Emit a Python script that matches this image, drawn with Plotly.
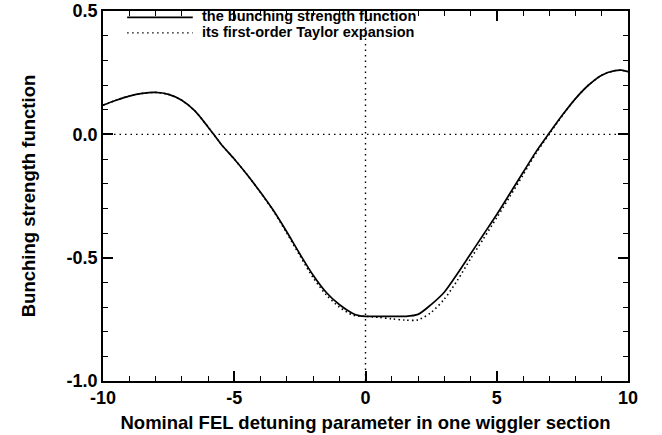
import plotly.graph_objects as go

# Detuning parameter samples
detuning = [-10, -9.5, -9, -8.5, -8, -7.5, -7, -6.5, -6, -5.5, -5, -4.5, -4,
            -3.5, -3, -2.5, -2, -1.5, -1, -0.5, -0.25, 0, 0.5, 1, 1.5, 2,
            2.5, 3, 3.5, 4, 4.5, 5, 5.5, 6, 6.5, 7, 7.5, 8, 8.5, 9, 9.5,
            9.75, 10]

# Bunching strength function
bunching = [0.118, 0.138, 0.155, 0.166, 0.170, 0.162, 0.138, 0.095, 0.030,
            -0.040, -0.100, -0.165, -0.235, -0.310, -0.395, -0.485, -0.570,
            -0.640, -0.690, -0.725, -0.735, -0.738, -0.738, -0.738, -0.738,
            -0.730, -0.690, -0.640, -0.565, -0.485, -0.405, -0.325, -0.240,
            -0.155, -0.070, 0.005, 0.078, 0.145, 0.200, 0.240, 0.258,
            0.260, 0.254]

# First-order Taylor expansion
taylor = [0.118, 0.138, 0.155, 0.166, 0.170, 0.162, 0.138, 0.095, 0.030,
          -0.040, -0.100, -0.165, -0.236, -0.312, -0.400, -0.492, -0.580,
          -0.650, -0.700, -0.732, -0.737, -0.738, -0.742, -0.748, -0.753,
          -0.752, -0.722, -0.668, -0.592, -0.505, -0.422, -0.338, -0.252,
          -0.165, -0.076, 0.001, 0.076, 0.145, 0.200, 0.240, 0.258,
          0.260, 0.254]

x_ticks = [-10, -5, 0, 5, 10]
x_ticktext = ["-10", "-5", "0", "5", "10"]
y_ticks = [-1.0, -0.5, 0.0, 0.5]
y_ticktext = ["-1.0", "-0.5", "0.0", "0.5"]

series_names = ["the bunching strength function",
                "its first-order Taylor expansion"]

FONT = "Liberation Sans, Arial, Helvetica, sans-serif"


def bold(size):
    return dict(family=FONT, size=size, color="black", weight="bold")


fig = go.Figure()
fig.add_trace(go.Scatter(x=detuning, y=bunching, mode="lines",
                         line=dict(color="black", width=1.7, shape="spline",
                                   smoothing=0.8),
                         name=series_names[0], showlegend=False))
fig.add_trace(go.Scatter(x=detuning, y=taylor, mode="lines",
                         line=dict(color="black", width=1.6, dash="1.5px,3px",
                                   shape="spline", smoothing=0.8),
                         name=series_names[1], showlegend=False))

# Dotted reference lines through the origin
fig.add_hline(y=0, line=dict(color="black", width=1.4, dash="1.5px,4px"))
fig.add_vline(x=0, line=dict(color="black", width=1.4, dash="1.5px,4px"))

# Hand-drawn legend in the upper-left corner of the plot area
legend_y = [0.986, 0.944]
legend_dash = ["solid", "1.5px,3.5px"]
for name, ypos, dash in zip(series_names, legend_y, legend_dash):
    fig.add_shape(type="line", xref="paper", yref="paper",
                  x0=0.046, x1=0.171, y0=ypos - 0.003, y1=ypos - 0.003,
                  line=dict(color="black", width=1.7 if dash == "solid" else 1.4,
                            dash=dash))
    fig.add_annotation(text=name, xref="paper", yref="paper",
                       x=0.186, y=ypos, xanchor="left", yanchor="middle",
                       showarrow=False, borderpad=0, font=bold(14.5))

axis_common = dict(showline=True, linecolor="black", linewidth=1.6,
                   mirror="ticks", ticks="inside", tickcolor="black",
                   tickwidth=1.5, ticklen=10, showgrid=False, zeroline=False,
                   automargin=False, tickfont=bold(18))

fig.update_xaxes(range=[-10, 10], tickvals=x_ticks, ticktext=x_ticktext,
                 minor=dict(dtick=1, ticks="inside", ticklen=5,
                            tickcolor="black", tickwidth=1.2),
                 title=dict(text="Nominal FEL detuning parameter in one wiggler section",
                            font=bold(18.5), standoff=9),
                 **axis_common)
fig.update_yaxes(range=[-1.0, 0.5], tickvals=y_ticks, ticktext=y_ticktext,
                 minor=dict(dtick=0.1, ticks="inside", ticklen=5,
                            tickcolor="black", tickwidth=1.2),
                 title=dict(text="Bunching strength function",
                            font=bold(18.5), standoff=26),
                 **axis_common)

fig.update_layout(width=662, height=435,
                  margin=dict(l=103, r=34, t=11, b=54),
                  paper_bgcolor="white", plot_bgcolor="white",
                  font=dict(family=FONT, color="black"))

fig.write_html("out.html")
